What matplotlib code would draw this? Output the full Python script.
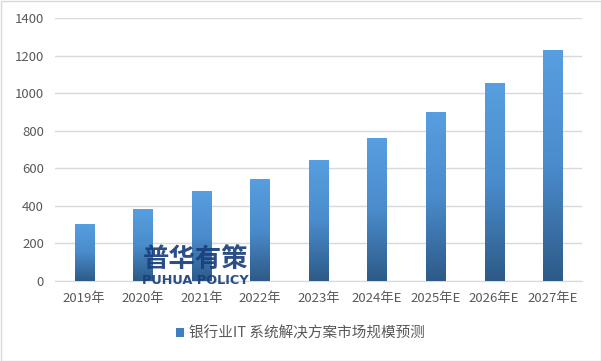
import matplotlib
matplotlib.use("Agg")
import matplotlib.pyplot as plt
import numpy as np
from matplotlib.colors import LinearSegmentedColormap
from matplotlib.patches import Rectangle

plt.rcParams['font.family'] = ['Noto Sans CJK SC', 'DejaVu Sans']

categories = ["2019年", "2020年", "2021年", "2022年", "2023年", "2024年E", "2025年E", "2026年E", "2027年E"]
values = [305, 383, 479, 543, 644, 761, 900, 1054, 1230]
series_name = "银行业IT 系统解决方案市场规模预测"
yticks = [0, 200, 400, 600, 800, 1000, 1200, 1400]

fig = plt.figure(figsize=(6.01, 3.61), dpi=100)
ax = fig.add_axes([55/601, 80/361, 527/601, 263/361])

cmap = LinearSegmentedColormap.from_list("g", ["#2d5a88", "#4a8ccc", "#579fe0"])
x = np.arange(len(categories))
bars = ax.bar(x, values, width=0.33, color="none", edgecolor="none", zorder=3)
grad = np.linspace(0, 1, 256).reshape(-1, 1)
for b in bars:
    x0, w, h = b.get_x(), b.get_width(), b.get_height()
    im = ax.imshow(grad, cmap=cmap, origin="lower", aspect="auto",
                   extent=[x0, x0 + w, 0, h], zorder=3)
    im.set_clip_path(b)

ax.set_xlim(-0.5, len(categories) - 0.5)
ax.set_ylim(0, 1400)
ax.set_yticks(yticks)
ax.set_xticks(x)
ax.set_xticklabels(categories)
ax.tick_params(axis='both', length=0, labelsize=9.5, colors="#595959")
ax.tick_params(axis='x', pad=8)
ax.tick_params(axis='y', pad=8)
ax.grid(axis='y', color="#d9d9d9", linewidth=1, zorder=0)
for s in ["top", "right", "left"]:
    ax.spines[s].set_visible(False)
ax.spines["bottom"].set_color("#d9d9d9")

# legend
handle = Rectangle((0, 0), 1, 1, facecolor="#3f7fbf", edgecolor="none")
fig.legend([handle], [series_name], loc="center", bbox_to_anchor=(0.5, 1 - 333/361),
           frameon=False, fontsize=10.5, labelcolor="#595959",
           handlelength=0.55, handleheight=0.55, handletextpad=0.4)

# watermark
fig.text(196/601, 1 - 259/361, "普华有策", fontsize=19, fontweight="bold",
         color="#1a3f7c", ha="center", va="center", alpha=0.92)
fig.text(195/601, 1 - 280/361, "PUHUA POLICY", fontsize=9.3, fontweight="bold",
         color="#1a3f7c", ha="center", va="center", alpha=0.92, family="DejaVu Sans")

# outer border
fig.patches.append(Rectangle((0.5/601, 0.5/361), 1 - 1/601, 1 - 1/361, transform=fig.transFigure,
                             fill=False, edgecolor="#d9d9d9", linewidth=1))

fig.savefig("out.png", dpi=100)
